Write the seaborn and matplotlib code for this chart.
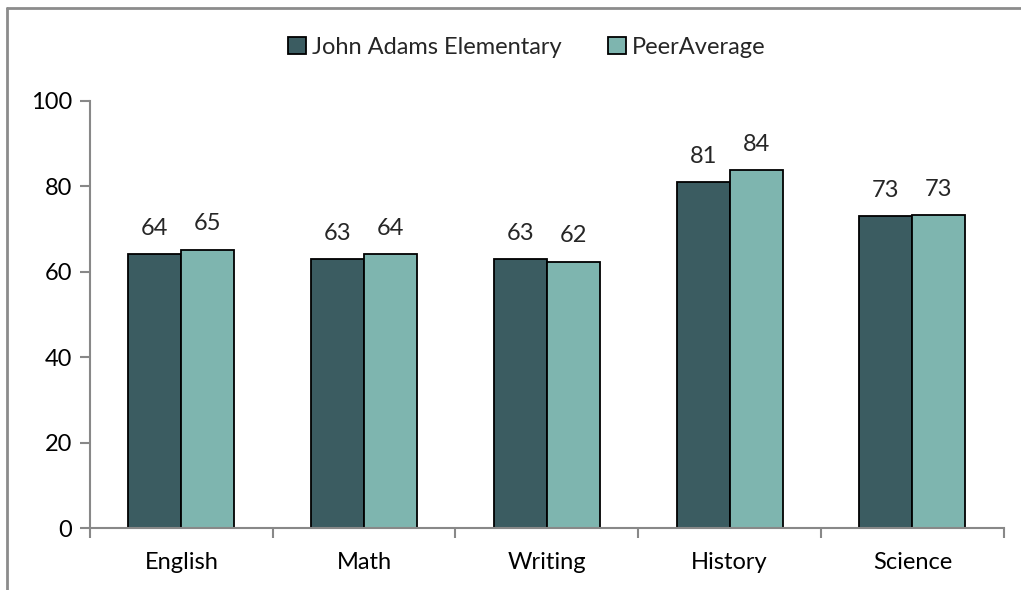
import pandas as pd
import numpy as np
import matplotlib
matplotlib.use("Agg")
import matplotlib.pyplot as plt
import seaborn as sns
from matplotlib.lines import Line2D

# ---- data ----
subjects = ['English', 'Math', 'Writing', 'History', 'Science']
school_name = 'John Adams Elementary'
peer_name = 'PeerAverage'
school_scores = [64.1, 63.0, 63.0, 81.0, 73.0]
peer_scores = [65.2, 64.2, 62.4, 83.8, 73.2]

DARK = '#3B5C61'
LIGHT = '#7EB5AF'
AXIS_GRAY = '#888888'

df = pd.DataFrame({
    'Subject': subjects * 2,
    'Group': [school_name] * len(subjects) + [peer_name] * len(subjects),
    'Score': school_scores + peer_scores,
})

sns.set_theme(style='white')
plt.rcParams['font.family'] = ['Lato', 'DejaVu Sans']
FS = 17

fig = plt.figure(figsize=(10.21, 5.90), dpi=100)
ax = fig.add_axes([0.0881, 0.105, 0.895, 0.724])

sns.barplot(data=df, x='Subject', y='Score', hue='Group',
            palette=[DARK, LIGHT], width=0.58, gap=0,
            edgecolor='black', linewidth=1.3, saturation=1, ax=ax)

for cont in ax.containers:
    ax.bar_label(cont, fmt='%.0f', padding=11, fontsize=FS)

ax.set_ylim(0, 100)
ax.set_xlim(-0.5, 4.5)
ax.set_yticks(range(0, 101, 20))
ax.set_xlabel('')
ax.set_ylabel('')

# tick marks sit between the categories on the x axis
ax.set_xticks(np.arange(-0.5, 5, 1), minor=True)
ax.tick_params(axis='x', which='major', bottom=False, labelsize=FS, pad=11, labelcolor='black')
ax.tick_params(axis='x', which='minor', bottom=True, length=7, color=AXIS_GRAY, width=1.5, direction='out')
ax.tick_params(axis='y', left=True, length=7, color=AXIS_GRAY, width=1.5, direction='out',
               labelsize=FS, pad=6, labelcolor='black')

for side in ['top', 'right']:
    ax.spines[side].set_visible(False)
for side in ['left', 'bottom']:
    ax.spines[side].set_color(AXIS_GRAY)
    ax.spines[side].set_linewidth(1.5)

handles, labels = ax.get_legend_handles_labels()
ax.legend_.remove()
fig.legend(handles, labels, loc='center', bbox_to_anchor=(0.516, 0.92), ncol=2,
           frameon=False, fontsize=FS, handlelength=0.75, handleheight=0.75,
           handletextpad=0.25, columnspacing=2.0)

# outer chart border (only top and left edges are visible in the crop)
fig.add_artist(Line2D([0.0073, 0.0073], [0.0, 0.986], transform=fig.transFigure,
                      color='#8C8C8C', linewidth=2))
fig.add_artist(Line2D([0.0073, 1.0], [0.986, 0.986], transform=fig.transFigure,
                      color='#8C8C8C', linewidth=2))

fig.savefig('out.png', dpi=100)
